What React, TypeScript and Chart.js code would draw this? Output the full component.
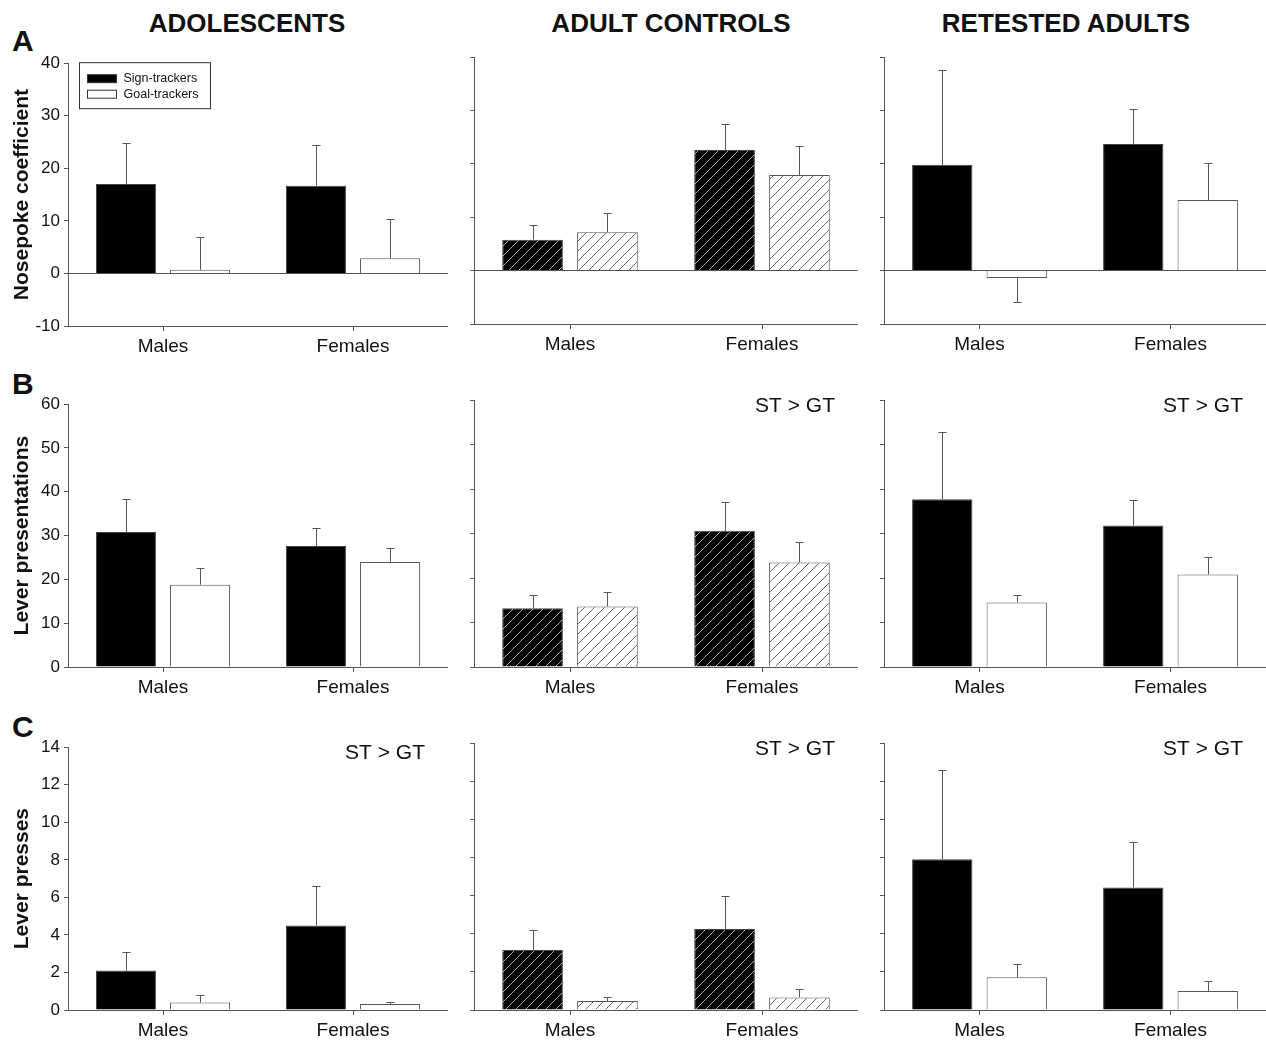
import React, { useEffect, useRef } from 'react';
import { Chart, registerables } from 'chart.js';

Chart.register(...registerables);

const FONT = '"Liberation Sans", Arial, Helvetica, sans-serif';

// ---- labels ----
const groups = ['Males', 'Females'];
const seriesNames = ['Sign-trackers', 'Goal-trackers'];
const columnTitles = ['ADOLESCENTS', 'ADULT CONTROLS', 'RETESTED ADULTS'];
const rowLetters = ['A', 'B', 'C'];
const rowTitles = ['Nosepoke coefficient', 'Lever presentations', 'Lever presses'];
const significanceNote = 'ST > GT';

// ---- y tick values per row ----
const nosepokeTicks = [-10, 0, 10, 20, 30, 40];
const presentationTicks = [0, 10, 20, 30, 40, 50, 60];
const pressTicks = [0, 2, 4, 6, 8, 10, 12, 14];

// ---- A: Nosepoke coefficient (means, SEM) ----
const nosepokeAdolescentsST = [17.0, 16.7];
const nosepokeAdolescentsSTErr = [7.8, 7.7];
const nosepokeAdolescentsGT = [0.7, 2.9];
const nosepokeAdolescentsGTErr = [6.3, 7.4];

const nosepokeControlsST = [5.8, 22.6];
const nosepokeControlsSTErr = [2.8, 4.9];
const nosepokeControlsGT = [7.2, 17.9];
const nosepokeControlsGTErr = [3.5, 5.4];

const nosepokeRetestedST = [19.8, 23.7];
const nosepokeRetestedSTErr = [17.7, 6.6];
const nosepokeRetestedGT = [-1.4, 13.2];
const nosepokeRetestedGTErr = [4.5, 7.0];

// ---- B: Lever presentations ----
const presentAdolescentsST = [30.8, 27.6];
const presentAdolescentsSTErr = [7.5, 4.1];
const presentAdolescentsGT = [18.8, 24.0];
const presentAdolescentsGTErr = [3.9, 3.1];

const presentControlsST = [13.2, 30.6];
const presentControlsSTErr = [3.0, 6.4];
const presentControlsGT = [13.6, 23.5];
const presentControlsGTErr = [3.3, 4.7];

const presentRetestedST = [37.7, 31.8];
const presentRetestedSTErr = [15.0, 5.7];
const presentRetestedGT = [14.5, 20.8];
const presentRetestedGTErr = [1.7, 3.9];

// ---- C: Lever presses ----
const pressAdolescentsST = [2.1, 4.5];
const pressAdolescentsSTErr = [1.0, 2.1];
const pressAdolescentsGT = [0.4, 0.32];
const pressAdolescentsGTErr = [0.4, 0.08];

const pressControlsST = [3.15, 4.25];
const pressControlsSTErr = [1.05, 1.75];
const pressControlsGT = [0.47, 0.66];
const pressControlsGTErr = [0.19, 0.42];

const pressRetestedST = [7.9, 6.42];
const pressRetestedSTErr = [4.7, 2.4];
const pressRetestedGT = [1.72, 1.0];
const pressRetestedGTErr = [0.68, 0.52];

// ---- panel table built from the arrays ----
type PanelData = { st: number[]; stErr: number[]; gt: number[]; gtErr: number[]; note: boolean };
const rowTicks = [nosepokeTicks, presentationTicks, pressTicks];
const panelRows: PanelData[][] = [
  [
    { st: nosepokeAdolescentsST, stErr: nosepokeAdolescentsSTErr, gt: nosepokeAdolescentsGT, gtErr: nosepokeAdolescentsGTErr, note: false },
    { st: nosepokeControlsST, stErr: nosepokeControlsSTErr, gt: nosepokeControlsGT, gtErr: nosepokeControlsGTErr, note: false },
    { st: nosepokeRetestedST, stErr: nosepokeRetestedSTErr, gt: nosepokeRetestedGT, gtErr: nosepokeRetestedGTErr, note: false },
  ],
  [
    { st: presentAdolescentsST, stErr: presentAdolescentsSTErr, gt: presentAdolescentsGT, gtErr: presentAdolescentsGTErr, note: false },
    { st: presentControlsST, stErr: presentControlsSTErr, gt: presentControlsGT, gtErr: presentControlsGTErr, note: true },
    { st: presentRetestedST, stErr: presentRetestedSTErr, gt: presentRetestedGT, gtErr: presentRetestedGTErr, note: true },
  ],
  [
    { st: pressAdolescentsST, stErr: pressAdolescentsSTErr, gt: pressAdolescentsGT, gtErr: pressAdolescentsGTErr, note: true },
    { st: pressControlsST, stErr: pressControlsSTErr, gt: pressControlsGT, gtErr: pressControlsGTErr, note: true },
    { st: pressRetestedST, stErr: pressRetestedSTErr, gt: pressRetestedGT, gtErr: pressRetestedGTErr, note: true },
  ],
];

// ---- layout (page pixels) ----
const colLayout = [
  { canvasLeft: 0, plotLeft: 68, plotW: 380, plotH: 265 },
  { canvasLeft: 444, plotLeft: 474, plotW: 384, plotH: 267 },
  { canvasLeft: 854, plotLeft: 884, plotW: 382, plotH: 267 },
];
const rowBottoms = [
  [326, 324, 324],
  [667, 667, 667],
  [1010, 1010, 1010],
];
const headerCenters = [247, 671, 1066];
const letterTops = [26, 369, 712];
const PAD_TOP = 12;
const XAXIS_H = 40;
const AXIS_COLOR = '#555';
const TEXT_COLOR = '#111';

function makeHatch(bg: string, line: string): CanvasPattern | string {
  const size = 10;
  const c = document.createElement('canvas');
  c.width = size;
  c.height = size;
  const g = c.getContext('2d');
  if (!g) return bg;
  g.fillStyle = bg;
  g.fillRect(0, 0, size, size);
  g.strokeStyle = line;
  g.lineWidth = 1;
  g.beginPath();
  g.moveTo(0, size);
  g.lineTo(size, 0);
  g.moveTo(-size / 2, size / 2);
  g.lineTo(size / 2, -size / 2);
  g.moveTo(size / 2, size * 1.5);
  g.lineTo(size * 1.5, size / 2);
  g.stroke();
  return g.createPattern(c, 'repeat') || bg;
}

type PanelProps = {
  row: number;
  col: number;
};

function Panel({ row, col }: PanelProps) {
  const ref = useRef<HTMLCanvasElement | null>(null);
  const lay = colLayout[col];
  const data = panelRows[row][col];
  const ticks = rowTicks[row];
  const yAxisW = lay.plotLeft - lay.canvasLeft;
  const width = yAxisW + lay.plotW;
  const height = lay.plotH + PAD_TOP + XAXIS_H;
  const top = rowBottoms[row][col] - lay.plotH - PAD_TOP;

  useEffect(() => {
    const canvas = ref.current;
    if (!canvas) return;
    const hatched = col === 1;
    const stFill = hatched ? makeHatch('#000', '#a8a8a8') : '#000';
    const gtFill = hatched ? makeHatch('#fff', '#666') : '#fff';
    const errors = [data.stErr, data.gtErr];
    const showLegend = row === 0 && col === 0;

    const errorBars = {
      id: 'errorBars',
      afterDatasetsDraw(chart: any) {
        const ctx = chart.ctx;
        const ys = chart.scales.y;
        ctx.save();
        ctx.strokeStyle = '#555';
        ctx.lineWidth = 1;
        chart.data.datasets.forEach((ds: any, i: number) => {
          const meta = chart.getDatasetMeta(i);
          meta.data.forEach((el: any, j: number) => {
            const v = ds.data[j] as number;
            const e = errors[i][j];
            const end = v >= 0 ? v + e : v - e;
            const x = Math.round(el.x) + 0.5;
            const y0 = el.y;
            const y1 = Math.round(ys.getPixelForValue(end)) + 0.5;
            ctx.beginPath();
            ctx.moveTo(x, y0);
            ctx.lineTo(x, y1);
            ctx.moveTo(x - 4, y1);
            ctx.lineTo(x + 4, y1);
            ctx.stroke();
          });
        });
        ctx.restore();
      },
    };

    const extras = {
      id: 'extras',
      afterDraw(chart: any) {
        const ctx = chart.ctx;
        const area = chart.chartArea;
        ctx.save();
        if (data.note) {
          ctx.font = `21px ${FONT}`;
          ctx.fillStyle = TEXT_COLOR;
          ctx.textAlign = 'right';
          ctx.textBaseline = 'alphabetic';
          ctx.fillText(significanceNote, area.right - 23, area.top + 12);
        }
        if (showLegend) {
          const bx = area.left + 11.5;
          const by = area.top - 0.5;
          ctx.strokeStyle = '#333';
          ctx.lineWidth = 1;
          ctx.fillStyle = '#fff';
          ctx.fillRect(bx, by, 131, 46);
          ctx.strokeRect(bx, by, 131, 46);
          ctx.font = `12.5px ${FONT}`;
          ctx.textAlign = 'left';
          ctx.textBaseline = 'middle';
          chart.data.datasets.forEach((ds: any, i: number) => {
            const sy = by + 12 + i * 15.5;
            ctx.fillStyle = i === 0 ? '#000' : '#fff';
            ctx.fillRect(bx + 8, sy, 29, 8);
            ctx.strokeRect(bx + 8, sy, 29, 8);
            ctx.fillStyle = TEXT_COLOR;
            ctx.fillText(ds.label, bx + 44, sy + 4);
          });
        }
        ctx.restore();
      },
    };

    const chart = new Chart(canvas, {
      type: 'bar',
      data: {
        labels: groups,
        datasets: [
          {
            label: seriesNames[0],
            data: data.st,
            backgroundColor: stFill as any,
            borderColor: '#444',
            borderWidth: 1,
            categoryPercentage: 0.78,
            barPercentage: 0.81,
          },
          {
            label: seriesNames[1],
            data: data.gt,
            backgroundColor: gtFill as any,
            borderColor: '#555',
            borderWidth: 1,
            categoryPercentage: 0.78,
            barPercentage: 0.81,
          },
        ],
      },
      options: {
        responsive: false,
        maintainAspectRatio: false,
        animation: false,
        devicePixelRatio: 1,
        layout: { padding: { top: PAD_TOP, right: 0, bottom: 0, left: 0 } },
        plugins: {
          legend: { display: false },
          tooltip: { enabled: false },
          title: { display: false },
        },
        scales: {
          x: {
            type: 'category',
            offset: true,
            grid: {
              offset: false,
              drawOnChartArea: false,
              drawTicks: true,
              tickLength: 5,
              tickColor: AXIS_COLOR,
            },
            border: { color: AXIS_COLOR, width: 1 },
            ticks: {
              font: { family: FONT, size: 19 },
              color: TEXT_COLOR,
              padding: 4,
              maxRotation: 0,
              autoSkip: false,
            },
            afterFit(scale: any) {
              scale.height = XAXIS_H;
            },
          },
          y: {
            type: 'linear',
            min: ticks[0],
            max: ticks[ticks.length - 1],
            grid: {
              drawOnChartArea: true,
              drawTicks: true,
              tickLength: 4,
              tickColor: AXIS_COLOR,
              color: (ctx: any) => (ctx.tick && ctx.tick.value === 0 ? AXIS_COLOR : 'rgba(0,0,0,0)'),
            },
            border: { color: AXIS_COLOR, width: 1 },
            ticks: {
              display: col === 0,
              stepSize: ticks[1] - ticks[0],
              font: { family: FONT, size: 17 },
              color: TEXT_COLOR,
              padding: 4,
            },
            title: {
              display: col === 0,
              text: rowTitles[row],
              font: { family: FONT, size: 21, weight: 'bold' },
              color: TEXT_COLOR,
              padding: { top: 10, bottom: 0 },
            },
            afterFit(scale: any) {
              scale.width = yAxisW;
            },
          },
        },
      } as any,
      plugins: [errorBars, extras],
    });
    return () => chart.destroy();
  }, [row, col]);

  return (
    <canvas
      ref={ref}
      width={width}
      height={height}
      style={{ position: 'absolute', left: lay.canvasLeft, top, width, height }}
    />
  );
}

export default function App() {
  const cells: React.ReactNode[] = [];
  for (let r = 0; r < 3; r++) {
    for (let c = 0; c < 3; c++) {
      cells.push(<Panel key={`${r}-${c}`} row={r} col={c} />);
    }
  }
  return (
    <div
      style={{
        position: 'absolute',
        left: 0,
        top: 0,
        width: 1266,
        height: 1044,
        overflow: 'hidden',
        background: '#fff',
        fontFamily: FONT,
        color: TEXT_COLOR,
      }}
    >
      {columnTitles.map((t, i) => (
        <div
          key={t}
          style={{
            position: 'absolute',
            left: headerCenters[i] - 250,
            width: 500,
            top: 10,
            textAlign: 'center',
            fontWeight: 'bold',
            fontSize: 26,
            lineHeight: '26px',
          }}
        >
          {t}
        </div>
      ))}
      {rowLetters.map((l, i) => (
        <div
          key={l}
          style={{
            position: 'absolute',
            left: 12,
            top: letterTops[i],
            fontWeight: 'bold',
            fontSize: 30,
            lineHeight: '30px',
          }}
        >
          {l}
        </div>
      ))}
      {cells}
    </div>
  );
}
